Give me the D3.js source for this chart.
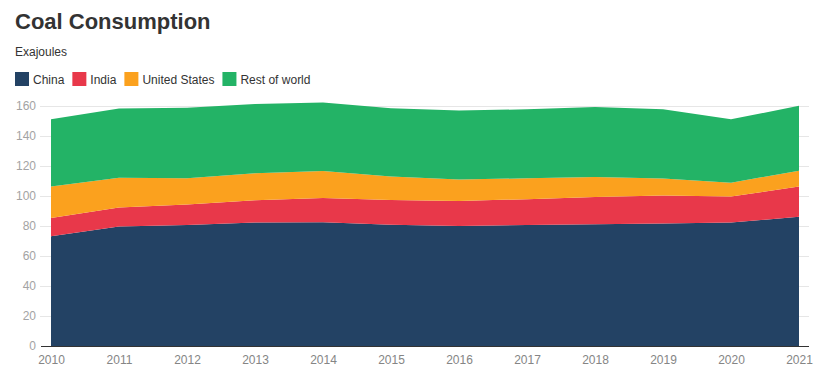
<!DOCTYPE html>
<html>
<head>
<meta charset="utf-8">
<script src="https://cdn.jsdelivr.net/npm/d3@7"></script>
<style>
  html, body { margin: 0; padding: 0; background: #fff; }
  svg { display: block; font-family: "Liberation Sans", Arial, sans-serif; }
</style>
</head>
<body>
<svg id="chart" width="819" height="378"></svg>
<script>
const years = [2010, 2011, 2012, 2013, 2014, 2015, 2016, 2017, 2018, 2019, 2020, 2021];
const seriesNames = ["China", "India", "United States", "Rest of world"];
const china = [73.2, 79.7, 80.7, 82.4, 82.5, 80.9, 80.0, 80.6, 81.1, 81.7, 82.3, 86.2];
const india = [12.2, 12.7, 13.7, 14.8, 16.2, 16.5, 16.7, 17.3, 18.3, 18.6, 17.4, 20.1];
const unitedStates = [20.9, 19.7, 17.4, 18.0, 17.9, 15.6, 14.3, 13.9, 13.3, 11.3, 9.2, 10.6];
const restOfWorld = [44.9, 46.2, 47.1, 46.1, 45.7, 45.5, 46.0, 46.0, 46.6, 46.2, 42.2, 43.2];
const yTicks = [0, 20, 40, 60, 80, 100, 120, 140, 160];
const colors = ["#234264", "#e8384a", "#fba11e", "#23b366"];

const table = years.map((y, i) => ({
  year: y,
  "China": china[i],
  "India": india[i],
  "United States": unitedStates[i],
  "Rest of world": restOfWorld[i]
}));

const svg = d3.select("#chart");
const x = d3.scaleLinear().domain([2010, 2021]).range([51, 799]);
const y = d3.scaleLinear().domain([0, 160]).range([346, 106]);

// Title
svg.append("text").attr("x", 15).attr("y", 29)
  .attr("font-size", 22).attr("font-weight", "bold").attr("fill", "#333")
  .text("Coal Consumption");
svg.append("text").attr("x", 15).attr("y", 56)
  .attr("font-size", 12).attr("fill", "#333")
  .text("Exajoules");

// Legend
let lx = 15;
seriesNames.forEach((name, i) => {
  const g = svg.append("g");
  g.append("rect").attr("x", lx).attr("y", 72).attr("width", 14).attr("height", 14).attr("fill", colors[i]);
  const t = g.append("text").attr("x", lx + 18).attr("y", 84)
    .attr("font-size", 12).attr("fill", "#333").text(name);
  lx += 18 + t.node().getComputedTextLength() + 8;
});

// Gridlines + y labels
const yAxis = d3.axisLeft(y).tickValues(yTicks).tickSize(0).tickPadding(0);
const gy = svg.append("g").attr("transform", "translate(36,0)").call(yAxis);
gy.select(".domain").remove();
gy.selectAll("text").attr("font-size", 12).attr("fill", "#a3a3a3")
  .attr("font-family", "Liberation Sans, Arial, sans-serif");

svg.append("g").selectAll("line").data(yTicks.filter(d => d > 0)).join("line")
  .attr("x1", 40).attr("x2", 809)
  .attr("y1", d => Math.round(y(d)) + 0.5).attr("y2", d => Math.round(y(d)) + 0.5)
  .attr("stroke", "#e6e6e6").attr("stroke-width", 1);

// Stacked areas
const stack = d3.stack().keys(seriesNames);
const layers = stack(table);
const area = d3.area()
  .x(d => x(d.data.year))
  .y0(d => y(d[0]))
  .y1(d => y(d[1]));
svg.append("g").selectAll("path").data(layers).join("path")
  .attr("d", area)
  .attr("fill", (d, i) => colors[i]);

// x axis
svg.append("line").attr("x1", 41).attr("x2", 809).attr("y1", 346.5).attr("y2", 346.5)
  .attr("stroke", "#333").attr("stroke-width", 1);
const xAxis = d3.axisBottom(x).tickValues(years).tickFormat(d3.format("d")).tickSize(0).tickPadding(0);
const gx = svg.append("g").attr("transform", "translate(0,355)").call(xAxis);
gx.select(".domain").remove();
gx.selectAll("text").attr("font-size", 12).attr("fill", "#858585")
  .attr("font-family", "Liberation Sans, Arial, sans-serif");
</script>
</body>
</html>
